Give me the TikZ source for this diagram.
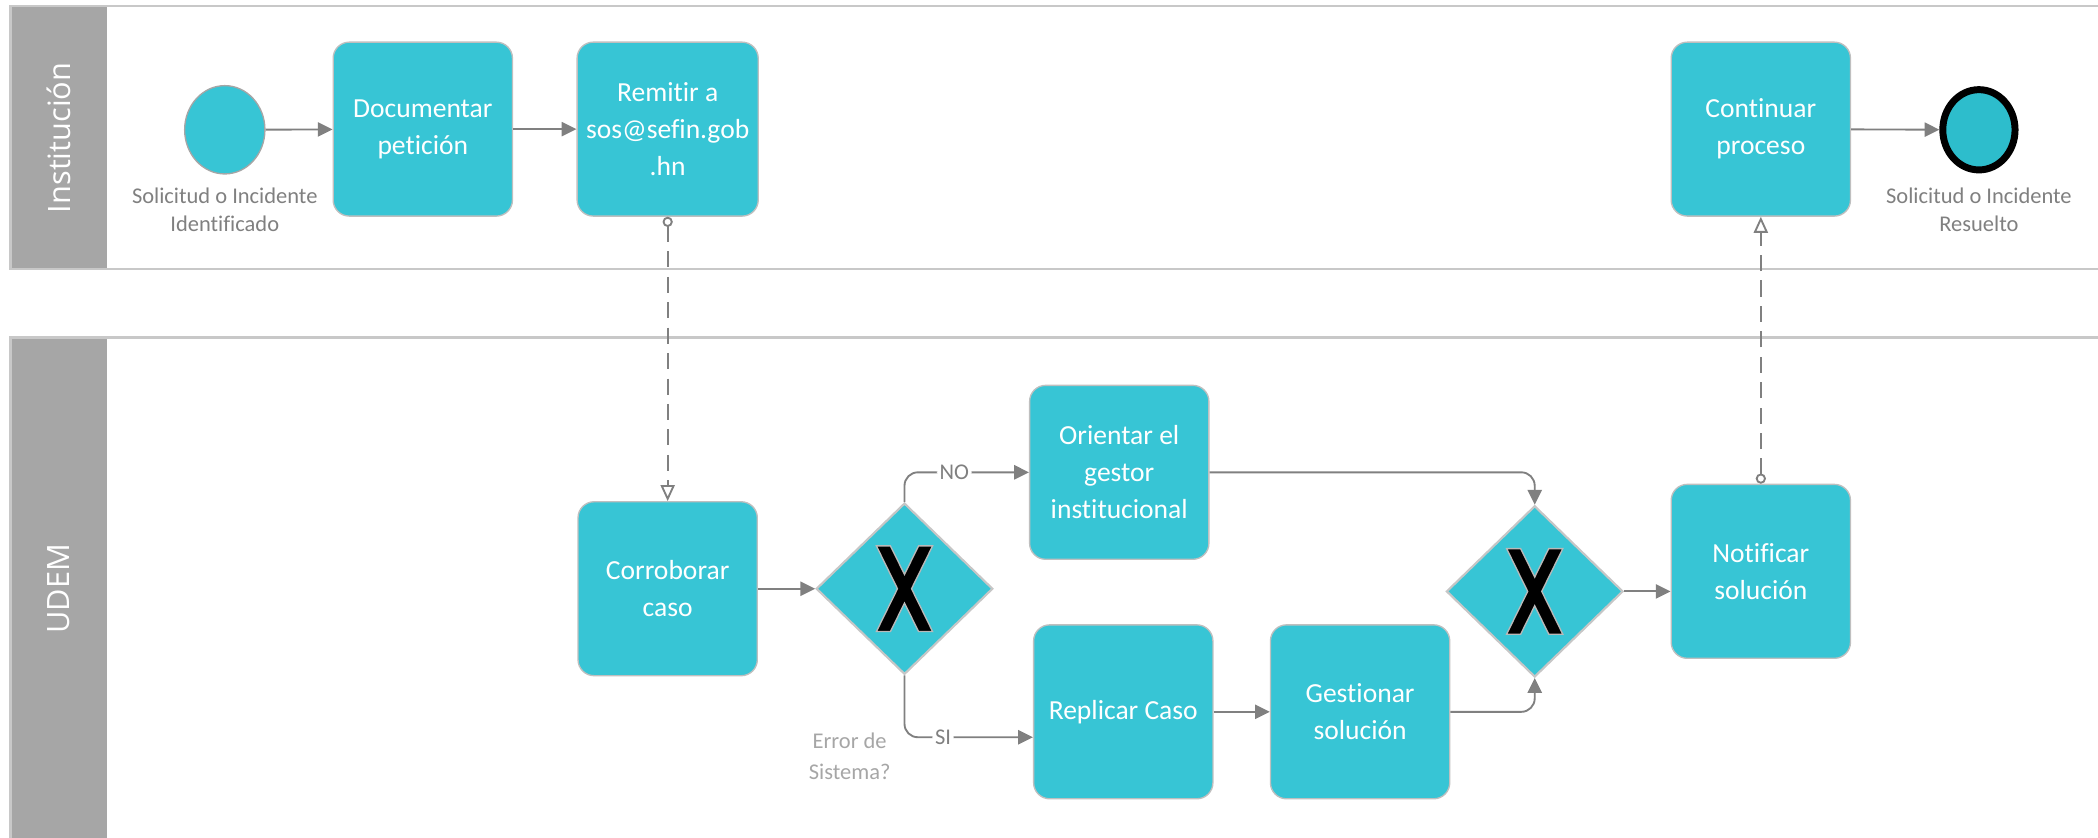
\documentclass[tikz,border=0pt]{standalone}
\usepackage{fontspec}
\setmainfont{Carlito}[Ligatures=NoCommon]
\newfontfamily\lanefont{Open Sans}
\usetikzlibrary{arrows.meta,shapes.geometric}
\definecolor{taskcyan}{HTML}{37C5D5}
\definecolor{endcyan}{HTML}{2DBDCC}
\definecolor{flowgray}{HTML}{808080}
\definecolor{lanegray}{HTML}{A6A6A6}
\definecolor{laneline}{HTML}{C8C8C8}

\begin{document}
\begin{tikzpicture}[x=0.5pt,y=-0.5pt]
\tikzstyle{task}=[rectangle, rounded corners=6pt, fill=taskcyan, draw=gray!50, line width=0.5pt, minimum width=67pt, minimum height=65pt, align=center, text=white, font=\fontsize{10.3}{13.8}\selectfont]
\tikzstyle{gateway}=[diamond, fill=taskcyan, draw=gray!45, line width=0.8pt, minimum width=66pt, minimum height=64pt, inner sep=0pt]
\tikzstyle{event}=[ellipse, fill=taskcyan, draw=gray!70, line width=0.5pt, minimum width=30pt, minimum height=33pt, inner sep=0pt]
\tikzstyle{flow}=[flowgray, line width=0.7pt, -{Triangle[length=5.5pt,width=5.3pt]}, rounded corners=5pt]
\tikzstyle{msg}=[flowgray, line width=0.7pt, dash pattern=on 6pt off 3.5pt, {Circle[open,length=3.8pt,width=3.8pt]}-{Triangle[open,length=6pt,width=5.3pt]}]
\tikzstyle{note}=[text=flowgray, align=center, font=\fontsize{8.4}{10.5}\selectfont]
\tikzstyle{guard}=[text=flowgray, fill=white, inner sep=1pt, font=\fontsize{8.4}{10}\selectfont]
\tikzstyle{lane}=[laneline, line width=1pt]
\tikzstyle{lanetitle}=[rotate=90, text=white, font=\lanefont\fontsize{11.5}{12}\selectfont]
\useasboundingbox (0,0) rectangle (1568,626.3);
% pools
\fill[lanegray] (8,4.5) rectangle (80,201);
\draw[lane] (1568,4.5) -- (8,4.5) -- (8,201) -- (1568,201);
\fill[lanegray] (8,252) rectangle (80,640);
\draw[lane] (1568,252) -- (8,252) -- (8,640);
\node[lanetitle] (institucion) at (44,103) {Institución};
\node[lanetitle] (udem) at (44,440) {UDEM};
% Institucion
\node[event] (inicio) at (168,97) {};
\node[note] (iniciolbl) at (168,156.5) {Solicitud o Incidente\\Identificado};
\node[task] (documentar) at (316,96.5) {Documentar\\petición};
\node[task] (remitir) at (499,96.5) {Remitir a\\sos@sefin.gob\\.hn};
\node[task] (continuar) at (1316,96.5) {Continuar\\proceso};
\node[event, fill=endcyan, draw=black, line width=2.6pt, minimum width=27pt, minimum height=30pt] (fin) at (1479,97) {};
\node[note] (finlbl) at (1479,156.5) {Solicitud o Incidente\\Resuelto};
% UDEM
\node[task] (corroborar) at (499,440) {Corroborar\\caso};
\node[gateway] (gwa) at (676,440) {};
\node[task] (orientar) at (836.5,353) {Orientar el\\gestor\\institucional};
\node[task] (replicar) at (839.5,532) {Replicar Caso};
\node[task] (gestionar) at (1016.5,532) {Gestionar\\solución};
\node[gateway] (gwb) at (1147,442) {};
\node[task] (notificar) at (1316,427) {Notificar\\solución};
\node[note, text=lanegray, font=\fontsize{8.4}{11.5}\selectfont] (pregunta) at (635,565.5) {Error de\\Sistema?};
\foreach \g in {gwa,gwb}
  \filldraw[black, draw=gray!55, line width=0.5pt, shift={(\g)}] (-21,-32) -- (-10.5,-32) -- (0,-10.7) -- (10.5,-32) -- (21,-32) -- (5.25,0) -- (21,32) -- (10.5,32) -- (0,10.7) -- (-10.5,32) -- (-21,32) -- (-5.25,0) -- cycle; %exclusive gateway
% sequence flows
\draw[flow] (inicio) -- (documentar);
\draw[flow] (documentar) -- (remitir);
\draw[flow] (continuar) -- (fin);
\draw[flow] (corroborar) -- (gwa);
\draw[flow] (gwa.north) |- node[guard, pos=0.7] (no) {NO} (orientar.west);
\draw[flow] (gwa.south) |- node[guard, pos=0.65] (si) {SI} ([yshift=-9.5pt]replicar.west);
\draw[flow] (orientar.east) -| (gwb.north);
\draw[flow] (replicar) -- (gestionar);
\draw[flow] (gestionar.east) -| (gwb.south);
\draw[flow] (gwb.east) -- (gwb.east -| notificar.west);
% message flows
\draw[msg] (remitir) -- (corroborar);
\draw[msg] (notificar) -- (continuar);
\end{tikzpicture}
\end{document}
